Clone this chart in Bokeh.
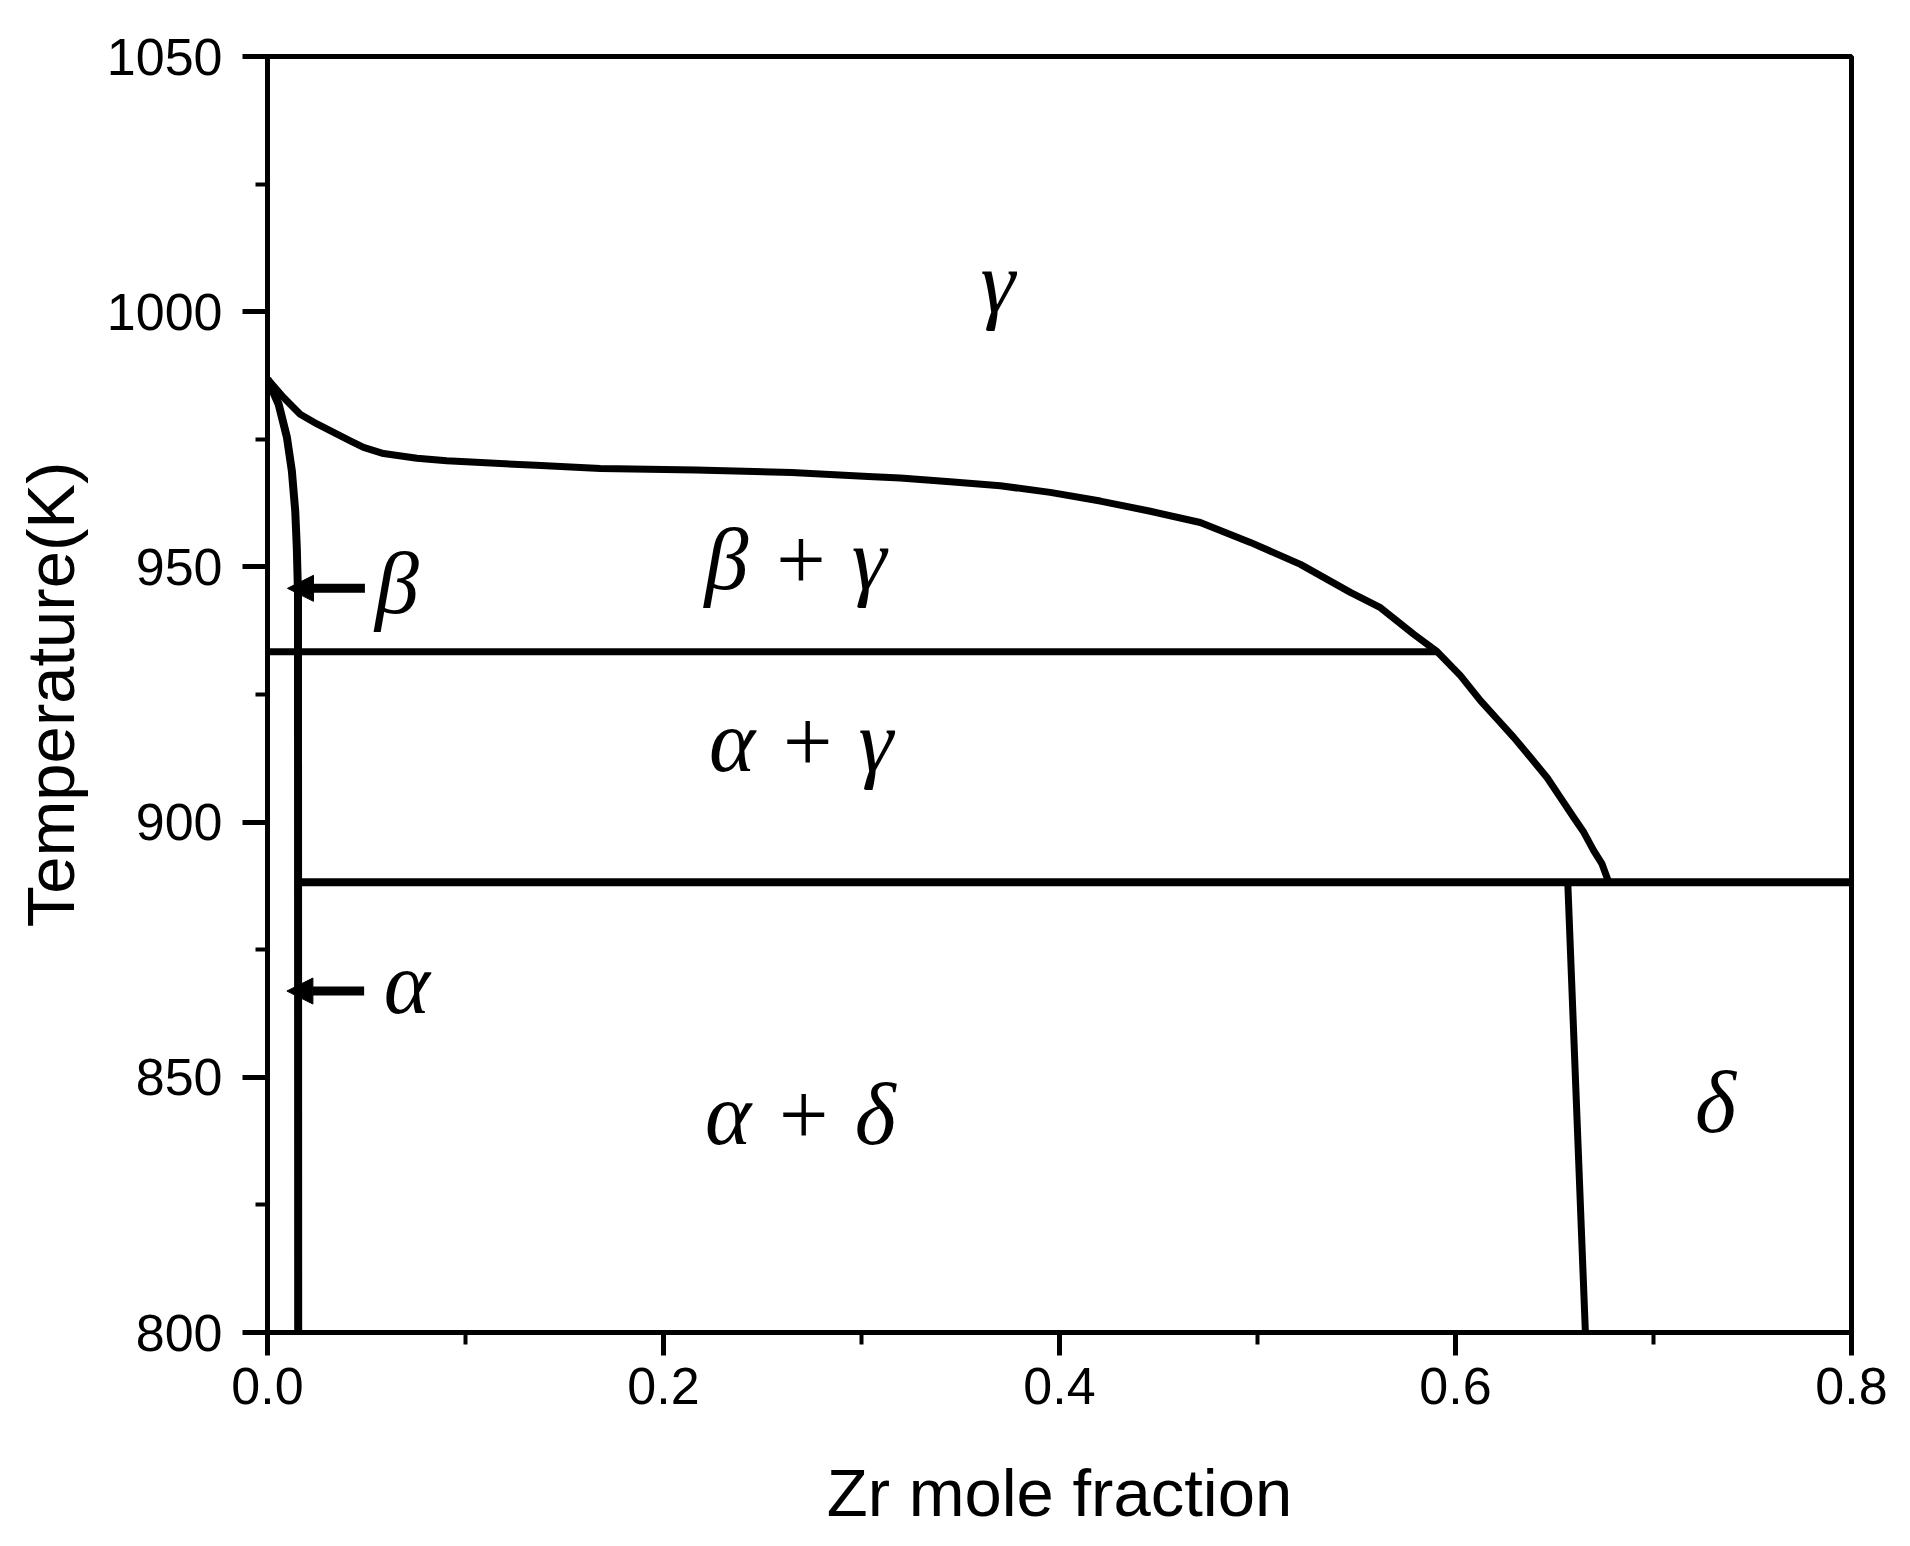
from bokeh.plotting import figure
from bokeh.models import Range1d, FixedTicker, NumeralTickFormatter, Arrow, NormalHead, ColumnDataSource
from bokeh.core.properties import value
from bokeh.embed import file_html
from bokeh.resources import INLINE

# ---- data ----
# gamma / (beta+gamma), (alpha+gamma) boundary
upper_x = [0.0, 0.0081, 0.0165, 0.025, 0.0351, 0.0418, 0.0485, 0.0586, 0.0755, 0.0905,
           0.1356, 0.1681, 0.2164, 0.2647, 0.3034, 0.3196, 0.3448, 0.3701, 0.3953, 0.4206,
           0.4459, 0.4711, 0.4964, 0.5217, 0.5469, 0.5621, 0.5705, 0.5789, 0.5907, 0.6025,
           0.6126, 0.621, 0.6294, 0.6378, 0.6463, 0.653, 0.6597, 0.6648, 0.6698, 0.674, 0.6774]
upper_T = [986.8, 983.2, 979.9, 978.0, 976.0, 974.7, 973.4, 972.2, 971.3, 970.8,
           969.9, 969.3, 969.0, 968.5, 967.7, 967.4, 966.7, 965.9, 964.6, 962.9,
           960.9, 958.7, 954.8, 950.5, 945.0, 942.0, 939.4, 936.8, 933.4, 928.7,
           923.8, 920.2, 916.6, 912.7, 908.7, 904.8, 900.9, 898.0, 894.4, 891.8, 888.2]
# beta / alpha solvus (left)
beta_x = [0.0, 0.0056, 0.0098, 0.0123, 0.014, 0.0148, 0.0154, 0.0155]
beta_T = [986.8, 981.9, 975.4, 968.8, 961.0, 953.8, 944.7, 800.0]
# invariant lines
eut1_x = [0.0, 0.5907]
eut1_T = [933.4, 933.4]
eut2_x = [0.0155, 0.8]
eut2_T = [888.2, 888.2]
# delta boundary
delta_x = [0.6567, 0.6656]
delta_T = [888.2, 800.0]
# arrows
arrow_x_start = [0.0492, 0.0488]
arrow_x_end = [0.0101, 0.0098]
arrow_T = [945.8, 866.9]
# phase labels
label_text = ["\u03b3", "\u03b2 + \u03b3", "\u03b1 + \u03b3", "\u03b1 + \u03b4", "\u03b4", "\u03b2", "\u03b1"]
label_x = [0.3689, 0.2667, 0.2695, 0.2691, 0.7313, 0.0654, 0.0704]
label_T = [1005.8, 951.4, 915.7, 842.8, 845.0, 946.7, 868.4]
# ticks
x_major = [0.0, 0.2, 0.4, 0.6, 0.8]
x_minor = [0.1, 0.3, 0.5, 0.7]
y_major = [800, 850, 900, 950, 1000, 1050]
y_minor = [825, 875, 925, 975, 1025]

p = figure(frame_width=1584, frame_height=1276,
           x_range=Range1d(0, 0.8), y_range=Range1d(800, 1050),
           output_backend="svg", toolbar_location=None,
           min_border_left=267, min_border_right=51, min_border_top=56, min_border_bottom=200,
           background_fill_color="white", border_fill_color="white")
p.grid.visible = False
p.outline_line_color = "black"
p.outline_line_width = 5

p.xaxis.ticker = FixedTicker(ticks=x_major, minor_ticks=x_minor)
p.yaxis.ticker = FixedTicker(ticks=y_major, minor_ticks=y_minor)
p.xaxis.formatter = NumeralTickFormatter(format="0.0")
for ax in (p.xaxis[0], p.yaxis[0]):
    ax.axis_line_width = 5
    ax.axis_line_color = "black"
    ax.major_tick_line_width = 5
    ax.minor_tick_line_width = 4
    ax.major_tick_in = 0
    ax.minor_tick_in = 0
    ax.major_label_text_font = "Liberation Sans"
    ax.major_label_text_font_size = "52px"
    ax.major_label_text_color = "black"
    ax.axis_label_text_font = "Liberation Sans"
    ax.axis_label_text_font_size = "67px"
    ax.axis_label_text_font_style = "normal"
    ax.axis_label_text_color = "black"
p.xaxis.major_tick_out = 23
p.xaxis.minor_tick_out = 12
p.yaxis.major_tick_out = 25
p.yaxis.minor_tick_out = 12
p.xaxis.major_label_standoff = 12
p.yaxis.major_label_standoff = 20
p.xaxis.axis_label = "Zr mole fraction"
p.yaxis.axis_label = "Temperature(K)"
p.xaxis.axis_label_standoff = 48
p.yaxis.axis_label_standoff = 16

p.line(upper_x, upper_T, line_color="black", line_width=7, line_join="round")
p.line(beta_x, beta_T, line_color="black", line_width=8, line_join="round")
p.line(eut1_x, eut1_T, line_color="black", line_width=7)
p.line(eut2_x, eut2_T, line_color="black", line_width=8)
p.line(delta_x, delta_T, line_color="black", line_width=7)

asrc = ColumnDataSource(dict(xs=arrow_x_start, xe=arrow_x_end, ys=arrow_T, ye=arrow_T))
p.add_layout(Arrow(end=NormalHead(size=26, fill_color="black", line_color="black", line_width=1),
                   x_start="xs", y_start="ys", x_end="xe", y_end="ye", source=asrc,
                   line_width=9, line_color="black"))

lsrc = ColumnDataSource(dict(x=label_x, y=label_T, t=label_text))
p.text(x="x", y="y", text="t", source=lsrc, text_font=value("Liberation Serif"),
       text_font_style="italic", text_font_size="88px", text_align="center",
       text_baseline="alphabetic", text_color="black")

open("out.html", "w").write(file_html(p, INLINE))
